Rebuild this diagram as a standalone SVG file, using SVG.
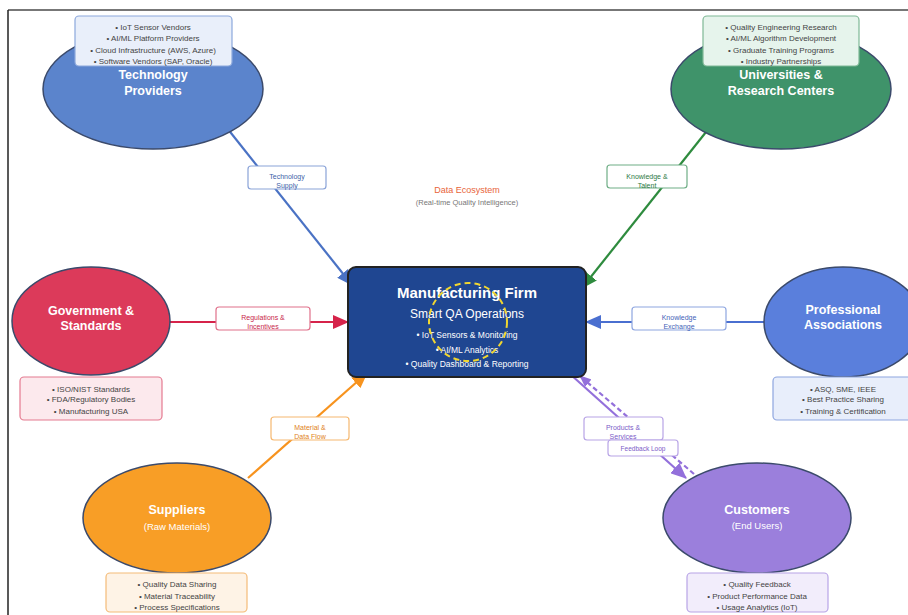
<svg xmlns="http://www.w3.org/2000/svg" width="908" height="615" viewBox="0 0 908 615">
<style>
text{font-family:"Liberation Sans",Arial,sans-serif;text-anchor:middle}
.ell{stroke:#3b4a6b;stroke-width:1.5}
.title{font-size:12.5px;font-weight:bold;fill:#fff}
.sub{font-size:9.5px;fill:#fff}
.info{font-size:8px;fill:#444}
.lbl{fill:#fff;stroke-width:1.2}
.lt{font-size:7px}
.conn{fill:none;stroke-width:2.2}
</style>
<defs>
<marker id="aBlue" markerUnits="userSpaceOnUse" markerWidth="16" markerHeight="14" refX="15" refY="7" orient="auto"><path d="M0,0 L16,7 L0,14 z" fill="#4a72c4"/></marker>
<marker id="aGreen" markerUnits="userSpaceOnUse" markerWidth="16" markerHeight="14" refX="15" refY="7" orient="auto"><path d="M0,0 L16,7 L0,14 z" fill="#2e8b3e"/></marker>
<marker id="aRed" markerUnits="userSpaceOnUse" markerWidth="16" markerHeight="14" refX="15" refY="7" orient="auto"><path d="M0,0 L16,7 L0,14 z" fill="#d6234a"/></marker>
<marker id="aBlue2" markerUnits="userSpaceOnUse" markerWidth="16" markerHeight="14" refX="15" refY="7" orient="auto"><path d="M0,0 L16,7 L0,14 z" fill="#4a6fd0"/></marker>
<marker id="aOrange" markerUnits="userSpaceOnUse" markerWidth="16" markerHeight="14" refX="15" refY="7" orient="auto"><path d="M0,0 L16,7 L0,14 z" fill="#f7931e"/></marker>
<marker id="aPurple" markerUnits="userSpaceOnUse" markerWidth="16" markerHeight="14" refX="15" refY="7" orient="auto"><path d="M0,0 L16,7 L0,14 z" fill="#9370db"/></marker>
<marker id="aPurpleS" markerUnits="userSpaceOnUse" markerWidth="12" markerHeight="10" refX="11" refY="5" orient="auto"><path d="M0,0 L12,5 L0,10 z" fill="#9370db"/></marker>
</defs>
<rect width="908" height="615" fill="#fff"/>
<line x1="8" y1="10" x2="908" y2="10" stroke="#777" stroke-width="2"/>
<line x1="8" y1="10" x2="8" y2="615" stroke="#222" stroke-width="1.5"/>

<g id="connectors">
<line class="conn" x1="227" y1="128" x2="352" y2="285" stroke="#4a72c4" marker-end="url(#aBlue)"/>
<line class="conn" x1="710" y1="127" x2="582" y2="288" stroke="#2e8b3e" marker-end="url(#aGreen)"/>
<line class="conn" x1="170" y1="322" x2="348" y2="322" stroke="#d6234a" marker-end="url(#aRed)"/>
<line class="conn" x1="764" y1="322" x2="586" y2="322" stroke="#4a6fd0" marker-end="url(#aBlue2)"/>
<line class="conn" x1="248" y1="478" x2="367" y2="373" stroke="#f7931e" marker-end="url(#aOrange)"/>
<line class="conn" x1="570" y1="374" x2="686" y2="478" stroke="#9370db" stroke-width="2.5" marker-end="url(#aPurple)"/>
<line class="conn" x1="694" y1="474" x2="580" y2="376" stroke="#9370db" stroke-width="1.5" stroke-dasharray="5,3" marker-end="url(#aPurpleS)"/>
<g id="label-tech"><rect class="lbl" x="248" y="166" width="78" height="23" rx="3" stroke="#8aa3d8"/><text class="lt" x="287" y="179" fill="#3d5fa8">Technology</text><text class="lt" x="287" y="188" fill="#3d5fa8">Supply</text></g>
<g id="label-know"><rect class="lbl" x="607" y="165" width="80" height="23" rx="3" stroke="#6fae86"/><text class="lt" x="647" y="179" fill="#2e7a45">Knowledge &amp;</text><text class="lt" x="647" y="188" fill="#2e7a45">Talent</text></g>
<g id="label-reg"><rect class="lbl" x="216" y="307" width="94" height="23" rx="3" stroke="#e0708a"/><text class="lt" x="263" y="320" fill="#c8284a">Regulations &amp;</text><text class="lt" x="263" y="329" fill="#c8284a">Incentives</text></g>
<g id="label-exch"><rect class="lbl" x="632" y="307" width="94" height="23" rx="3" stroke="#8ea6e0"/><text class="lt" x="679" y="320" fill="#3f62b8">Knowledge</text><text class="lt" x="679" y="329" fill="#3f62b8">Exchange</text></g>
<g id="label-mat"><rect class="lbl" x="271" y="417" width="78" height="23" rx="3" stroke="#f6b870"/><text class="lt" x="310" y="430" fill="#e0821a">Material &amp;</text><text class="lt" x="310" y="439" fill="#e0821a">Data Flow</text></g>
<g id="label-prod"><rect class="lbl" x="584" y="417" width="79" height="23" rx="3" stroke="#b8a4e6"/><text class="lt" x="623" y="430" fill="#7c5cc8">Products &amp;</text><text class="lt" x="623" y="439" fill="#7c5cc8">Services</text></g>
<g id="label-fb"><rect class="lbl" x="608" y="440" width="70" height="16" rx="3" stroke="#b8a4e6"/><text x="643" y="450.5" font-size="6.5" fill="#7c5cc8">Feedback Loop</text></g>
</g>

<g id="data-ecosystem">
<text x="467" y="193" font-size="9" fill="#e8643a">Data Ecosystem</text>
<text x="467" y="205" font-size="7.5" fill="#777">(Real-time Quality Intelligence)</text>
</g>

<g id="tech-providers">
<ellipse class="ell" cx="153" cy="89" rx="110" ry="60" fill="#5b84cc"/>
<text class="title" x="153" y="79">Technology</text>
<text class="title" x="153" y="95">Providers</text>
<rect x="75" y="16" width="157" height="50" rx="4" fill="#e9effa" stroke="#8ca8dc" stroke-width="1.2"/>
<text class="info" x="153" y="30">• IoT Sensor Vendors</text>
<text class="info" x="153" y="41">• AI/ML Platform Providers</text>
<text class="info" x="153" y="52.5">• Cloud Infrastructure (AWS, Azure)</text>
<text class="info" x="153" y="63.5">• Software Vendors (SAP, Oracle)</text>
</g>

<g id="universities">
<ellipse class="ell" cx="781" cy="89" rx="110" ry="60" fill="#3f936a"/>
<text class="title" x="781" y="79">Universities &amp;</text>
<text class="title" x="781" y="95">Research Centers</text>
<rect x="703" y="16" width="156" height="50" rx="4" fill="#e6f4ec" stroke="#7fb896" stroke-width="1.2"/>
<text class="info" x="781" y="30">• Quality Engineering Research</text>
<text class="info" x="781" y="41">• AI/ML Algorithm Development</text>
<text class="info" x="781" y="52.5">• Graduate Training Programs</text>
<text class="info" x="781" y="63.5">• Industry Partnerships</text>
</g>

<g id="government">
<ellipse class="ell" cx="91" cy="321" rx="79" ry="54" fill="#dc3a5a"/>
<text class="title" x="91" y="315">Government &amp;</text>
<text class="title" x="91" y="330">Standards</text>
<rect x="20" y="377" width="142" height="43" rx="4" fill="#fce9ed" stroke="#e47a90" stroke-width="1.2"/>
<text class="info" x="91" y="391.5">• ISO/NIST Standards</text>
<text class="info" x="91" y="402">• FDA/Regulatory Bodies</text>
<text class="info" x="91" y="413.5">• Manufacturing USA</text>
</g>

<g id="professional">
<ellipse class="ell" cx="843" cy="322" rx="79" ry="55" fill="#5a7fdc"/>
<text class="title" x="843" y="314">Professional</text>
<text class="title" x="843" y="329">Associations</text>
<rect x="773" y="377" width="140" height="43" rx="4" fill="#e8eefb" stroke="#8ea6e0" stroke-width="1.2"/>
<text class="info" x="843" y="391.5">• ASQ, SME, IEEE</text>
<text class="info" x="843" y="402">• Best Practice Sharing</text>
<text class="info" x="843" y="413.5">• Training &amp; Certification</text>
</g>

<g id="suppliers">
<ellipse class="ell" cx="177" cy="518" rx="94" ry="55" fill="#f89e26"/>
<text class="title" x="177" y="514">Suppliers</text>
<text class="sub" x="177" y="530">(Raw Materials)</text>
<rect x="106" y="573" width="141" height="39" rx="4" fill="#fef3e6" stroke="#f4bb78" stroke-width="1.2"/>
<text class="info" x="177" y="587">• Quality Data Sharing</text>
<text class="info" x="177" y="598.5">• Material Traceability</text>
<text class="info" x="177" y="609.5">• Process Specifications</text>
</g>

<g id="customers">
<ellipse class="ell" cx="757" cy="518" rx="94" ry="55" fill="#9b7fdc"/>
<text class="title" x="757" y="514">Customers</text>
<text class="sub" x="757" y="529">(End Users)</text>
<rect x="687" y="573" width="141" height="39" rx="4" fill="#f2edfb" stroke="#b8a4e6" stroke-width="1.2"/>
<text class="info" x="757" y="587">• Quality Feedback</text>
<text class="info" x="757" y="598.5">• Product Performance Data</text>
<text class="info" x="757" y="609.5">• Usage Analytics (IoT)</text>
</g>

<g id="manufacturing-firm">
<rect x="348" y="267" width="238" height="110" rx="8" fill="#1f4691" stroke="#222" stroke-width="2"/>
<text x="467" y="298" font-size="15" font-weight="bold" fill="#fff">Manufacturing Firm</text>
<text x="467" y="318" font-size="12" fill="#fff">Smart QA Operations</text>
<text x="467" y="338" font-size="8.5" fill="#fff">• IoT Sensors &amp; Monitoring</text>
<text x="467" y="352.5" font-size="8.5" fill="#fff">• AI/ML Analytics</text>
<text x="467" y="367" font-size="8.5" fill="#fff">• Quality Dashboard &amp; Reporting</text>
<circle cx="468" cy="322" r="39" fill="none" stroke="#f0d630" stroke-width="2" stroke-dasharray="6,4"/>
</g>
</svg>
